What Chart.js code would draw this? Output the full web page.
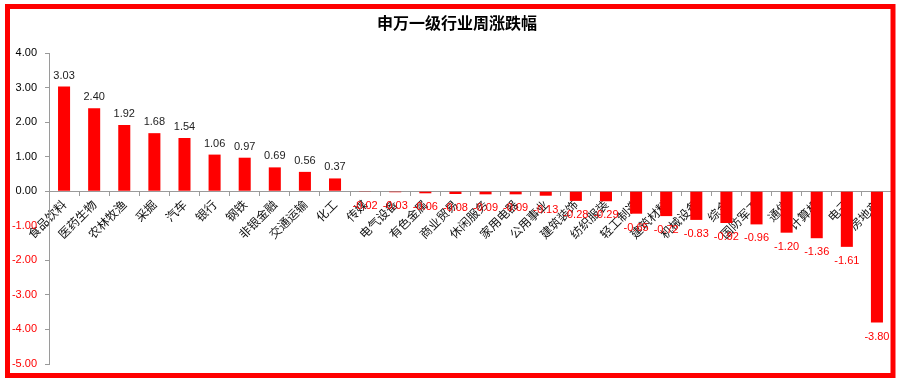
<!DOCTYPE html>
<html>
<head>
<meta charset="utf-8">
<script src="https://cdn.jsdelivr.net/npm/chart.js@4.4.1/dist/chart.umd.min.js"></script>
<style>
html,body{margin:0;padding:0;background:#fff;}
#wrap{position:absolute;left:0;top:0;width:900px;height:382px;}
</style>
</head>
<body>
<div id="wrap"><canvas id="c" width="900" height="382"></canvas></div>
<script>
const title = '申万一级行业周涨跌幅';
const categories = ['食品饮料','医药生物','农林牧渔','采掘','汽车','银行','钢铁','非银金融','交通运输','化工','传媒','电气设备','有色金属','商业贸易','休闲服务','家用电器','公用事业','建筑装饰','纺织服装','轻工制造','建筑材料','机械设备','综合','国防军工','通信','计算机','电子','房地产'];
const weeklyChange = [3.03,2.40,1.92,1.68,1.54,1.06,0.97,0.69,0.56,0.37,-0.02,-0.03,-0.06,-0.08,-0.09,-0.09,-0.13,-0.28,-0.29,-0.65,-0.72,-0.83,-0.92,-0.96,-1.20,-1.36,-1.61,-3.80];
const yMin = -5, yMax = 4, yStep = 1;

const decor = {
  id: 'decor',
  afterDatasetsDraw(chart) {
    const ctx = chart.ctx;
    const meta = chart.getDatasetMeta(0);
    ctx.save();
    ctx.font = '11px "Liberation Sans", Arial, sans-serif';
    ctx.textAlign = 'center';
    ctx.textBaseline = 'middle';
    meta.data.forEach((el, i) => {
      const v = weeklyChange[i];
      if (v >= 0) {
        ctx.fillStyle = '#222';
        ctx.fillText(v.toFixed(2), el.x, el.y - 11);
      } else {
        ctx.fillStyle = '#ff0000';
        ctx.fillText(v.toFixed(2), el.x, el.y + 14);
      }
    });
    ctx.restore();
  },
  afterDraw(chart) {
    const ctx = chart.ctx;
    ctx.save();
    ctx.font = 'bold 16px "Noto Sans CJK SC", sans-serif';
    ctx.fillStyle = '#000';
    ctx.textAlign = 'center';
    ctx.textBaseline = 'middle';
    ctx.fillText(title, 457, 23);
    ctx.strokeStyle = '#ff0000';
    ctx.lineWidth = 5;
    ctx.strokeRect(7.5, 6.5, 885.5, 369);
    ctx.restore();
  }
};

new Chart(document.getElementById('c'), {
  type: 'bar',
  data: {
    labels: categories,
    datasets: [{
      data: weeklyChange,
      backgroundColor: '#ff0000',
      borderWidth: 0,
      barPercentage: 0.4,
      categoryPercentage: 1.0
    }]
  },
  options: {
    responsive: false,
    animation: false,
    devicePixelRatio: 1,
    layout: { padding: { left: 0, right: 8, top: 53, bottom: 18 } },
    plugins: { legend: { display: false }, title: { display: false }, tooltip: { enabled: false } },
    scales: {
      x: {
        position: { y: 0 },
        grid: { display: true, drawOnChartArea: false, drawTicks: true, tickLength: 4, color: '#9a9a9a', offset: true },
        border: { display: true, color: '#9a9a9a', width: 1 },
        ticks: {
          autoSkip: false, minRotation: 45, maxRotation: 45, padding: 2,
          color: '#111',
          font: { family: '"Noto Sans CJK SC", sans-serif', size: 12 }
        }
      },
      y: {
        min: yMin, max: yMax,
        afterFit(scale) { scale.width = 49; },
        grid: { display: true, drawOnChartArea: false, drawTicks: true, tickLength: 4, color: '#9a9a9a' },
        border: { display: true, color: '#9a9a9a', width: 1 },
        ticks: {
          stepSize: yStep, padding: 8,
          callback: v => Number(v).toFixed(2),
          color: ctx => (ctx.tick && ctx.tick.value < 0) ? '#ff0000' : '#000',
          font: { family: '"Liberation Sans", Arial, sans-serif', size: 11 }
        }
      }
    }
  },
  plugins: [decor]
});
</script>
</body>
</html>
